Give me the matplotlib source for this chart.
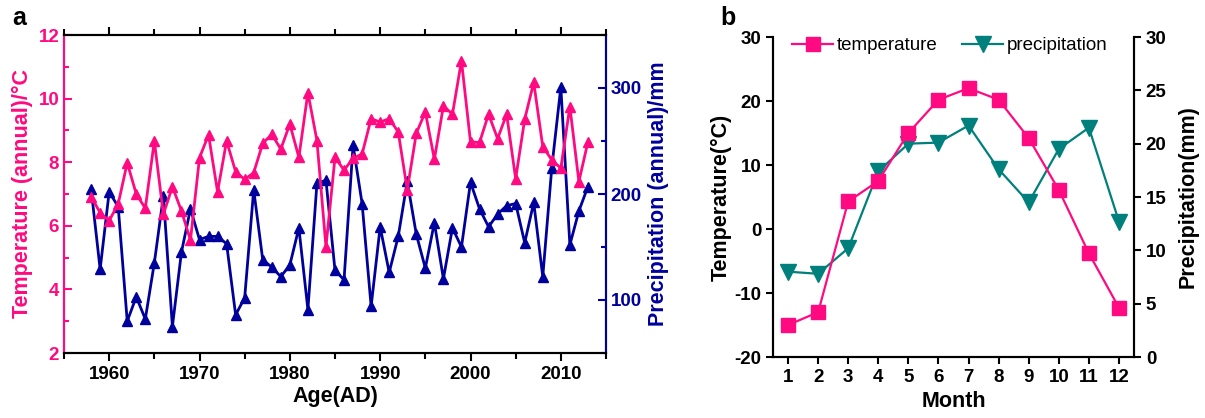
import numpy as np
import matplotlib.pyplot as plt
from matplotlib.ticker import MultipleLocator

plt.rcParams['font.family'] = ['Liberation Sans', 'DejaVu Sans']
plt.rcParams['axes.unicode_minus'] = False

# panel a: annual series
years = np.arange(1958, 2014)
temp_annual = [6.92, 6.41, 6.16, 6.69, 7.98, 7.00, 6.55, 8.67, 6.36, 7.23,
               6.47, 5.55, 8.14, 8.86, 7.07, 8.67, 7.70, 7.46, 7.67, 8.59,
               8.88, 8.41, 9.20, 8.15, 10.19, 8.68, 5.34, 8.15, 7.75, 8.12,
               8.26, 9.37, 9.26, 9.37, 8.95, 7.13, 8.91, 9.58, 8.09, 9.77,
               9.51, 11.19, 8.64, 8.62, 9.51, 8.74, 9.51, 7.48, 9.35, 10.51,
               8.49, 8.07, 7.81, 9.75, 7.39, 8.64]
prec_annual = [205, 129, 202, 188, 80, 103, 82, 135, 198, 75,
               145, 186, 157, 160, 160, 153, 86, 102, 204, 138,
               131, 122, 133, 168, 91, 210, 213, 128, 119, 246,
               191, 94, 169, 126, 160, 212, 162, 130, 173, 120,
               168, 150, 211, 186, 169, 181, 189, 191, 154, 192,
               122, 225, 301, 152, 184, 207]

# panel b: monthly climate
months = np.arange(1, 13)
temp_month = [-15.0, -13.0, 4.3, 7.5, 15.0, 20.2, 22.0, 20.2, 14.2, 6.1, -3.8, -12.3]
prec_month = [8.0, 7.8, 10.2, 17.4, 20.0, 20.1, 21.7, 17.6, 14.5, 19.5, 21.5, 12.7]

pink = '#FF0A80'
navy = '#00009C'
teal = '#00807C'

TICK = 13.5
LAB = 15.5

fig = plt.figure(figsize=(12.05, 4.18), dpi=100)
W, H = 1205, 418

# ---- panel a ----
ax1 = fig.add_axes([64 / W, 1 - 353 / H, (606 - 64) / W, (353 - 35) / H])
ax2 = ax1.twinx()

ax1.plot(years, temp_annual, color=pink, lw=2, marker='^', ms=7.5, zorder=3)
ax2.plot(years, prec_annual, color=navy, lw=2, marker='^', ms=7.5)
ax1.set_zorder(ax2.get_zorder() + 1)
ax1.patch.set_visible(False)

ax1.set_xlim(1955, 2015)
ax1.set_ylim(2, 12)
ax2.set_ylim(50, 350)
ax1.xaxis.set_major_locator(MultipleLocator(10))
ax1.xaxis.set_minor_locator(MultipleLocator(5))
ax1.yaxis.set_major_locator(MultipleLocator(2))
ax1.yaxis.set_minor_locator(MultipleLocator(1))
ax2.yaxis.set_major_locator(MultipleLocator(100))
ax2.yaxis.set_minor_locator(MultipleLocator(50))

for sp in ax1.spines.values():
    sp.set_linewidth(1.5)
for sp in ax2.spines.values():
    sp.set_linewidth(1.5)
ax2.spines['left'].set_color(pink)
ax2.spines['right'].set_color(navy)
ax1.spines['left'].set_color(pink)
ax1.spines['right'].set_color(navy)

ax1.tick_params(axis='x', which='major', direction='out', length=6, width=1.5,
                labelsize=TICK, top=True)
ax1.tick_params(axis='x', which='minor', direction='out', length=4, width=1.5, top=True)
ax1.tick_params(axis='y', which='major', direction='in', length=6, width=1.5,
                colors=pink, labelsize=TICK)
ax1.tick_params(axis='y', which='minor', direction='in', length=3.5, width=1.5, colors=pink)
ax2.tick_params(axis='y', which='major', direction='in', length=6, width=1.5,
                colors=navy, labelsize=TICK)
ax2.tick_params(axis='y', which='minor', direction='in', length=3.5, width=1.5, colors=navy)
for lab in ax1.get_xticklabels() + ax1.get_yticklabels() + ax2.get_yticklabels():
    lab.set_fontweight('bold')

ax1.set_xlabel('Age(AD)', fontsize=LAB, fontweight='bold', labelpad=2)
ax1.set_ylabel('Temperature (annual)/°C', fontsize=LAB, fontweight='bold', color=pink, labelpad=4)
ax2.set_ylabel('Precipitation (annual)/mm', fontsize=LAB, fontweight='bold', color=navy, labelpad=4)

# ---- panel b ----
bx1 = fig.add_axes([773 / W, 1 - 357 / H, (1134 - 773) / W, (357 - 37) / H])
bx2 = bx1.twinx()

l1, = bx1.plot(months, temp_month, color=pink, lw=1.6, marker='s', ms=9.5, label='temperature')
l2, = bx2.plot(months, prec_month, color=teal, lw=1.6, marker='v', ms=11, label='precipitation')
bx1.set_zorder(bx2.get_zorder() + 1)
bx1.patch.set_visible(False)

bx1.set_xlim(0.5, 12.5)
bx1.set_ylim(-20, 30)
bx2.set_ylim(0, 30)
bx1.set_xticks(months)
bx1.yaxis.set_major_locator(MultipleLocator(10))
bx2.yaxis.set_major_locator(MultipleLocator(5))

for b in (bx1, bx2):
    b.spines['top'].set_visible(False)
    for sp in b.spines.values():
        sp.set_linewidth(1.5)
bx1.tick_params(direction='out', length=5, width=1.5, labelsize=TICK)
bx2.tick_params(direction='out', length=5, width=1.5, labelsize=TICK)
for lab in bx1.get_xticklabels() + bx1.get_yticklabels() + bx2.get_yticklabels():
    lab.set_fontweight('bold')

bx1.set_xlabel('Month', fontsize=LAB, fontweight='bold', labelpad=4)
bx1.set_ylabel('Temperature(°C)', fontsize=LAB, fontweight='bold', labelpad=2)
bx2.set_ylabel('Precipitation(mm)', fontsize=LAB, fontweight='bold', labelpad=8)

bx1.legend([l1, l2], ['temperature', 'precipitation'], loc='upper center', ncol=2,
           frameon=False, fontsize=13.5, handlelength=2.2, handletextpad=0.2,
           columnspacing=1.3, bbox_to_anchor=(0.49, 1.04), borderaxespad=0.3)

fig.text(12 / W, 1 - 18 / H, 'a', fontsize=18, fontweight='bold', va='center')
fig.text(720 / W, 1 - 18 / H, 'b', fontsize=18, fontweight='bold', va='center')

fig.savefig('out.png', dpi=100)
